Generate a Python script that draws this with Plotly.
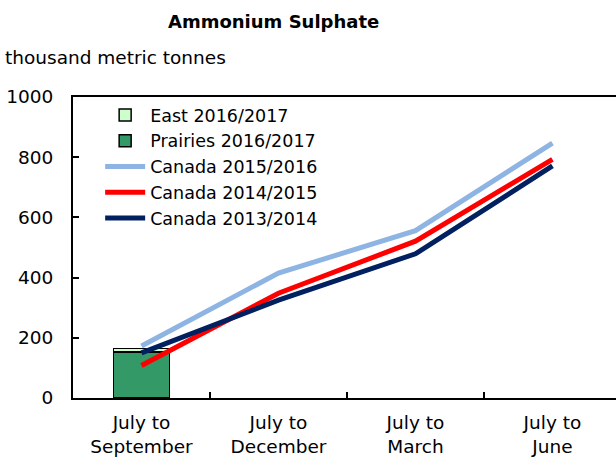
import plotly.graph_objects as go

categories = ["July to<br>September", "July to<br>December", "July to<br>March", "July to<br>June"]
prairies_1617 = [153]
east_1617 = [12]
canada_1516 = [173, 415, 556, 847]
canada_1415 = [108, 348, 521, 793]
canada_1314 = [150, 325, 479, 771]

font_family = "DejaVu Sans, Verdana, sans-serif"
fs = 18.5

fig = go.Figure()
fig.add_trace(go.Bar(x=categories[:1], y=prairies_1617, name="Prairies 2016/2017",
                     marker=dict(color="#339966", line=dict(color="black", width=1.5)),
                     width=0.41, legendrank=2))
fig.add_trace(go.Bar(x=categories[:1], y=east_1617, name="East 2016/2017",
                     marker=dict(color="#CCFFCC", line=dict(color="black", width=1.5)),
                     width=0.41, legendrank=1))
fig.add_trace(go.Scatter(x=categories, y=canada_1516, name="Canada 2015/2016", mode="lines",
                         line=dict(color="#8DB4E2", width=5), legendrank=3))
fig.add_trace(go.Scatter(x=categories, y=canada_1415, name="Canada 2014/2015", mode="lines",
                         line=dict(color="#FF0000", width=5), legendrank=4))
fig.add_trace(go.Scatter(x=categories, y=canada_1314, name="Canada 2013/2014", mode="lines",
                         line=dict(color="#002060", width=5), legendrank=5))

fig.update_layout(
    width=616, height=457,
    margin=dict(l=73, r=0, t=97, b=59, autoexpand=False),
    paper_bgcolor="white", plot_bgcolor="white",
    barmode="stack",
    font=dict(family=font_family, size=fs, color="black"),
    showlegend=True,
    legend=dict(x=0.05, y=1.0, xanchor="left", yanchor="top", bgcolor="rgba(0,0,0,0)",
                traceorder="normal", font=dict(size=17.5), tracegroupgap=0, itemwidth=40),
    xaxis=dict(type="category", range=[-0.5, 3.464], showline=True, linecolor="black", linewidth=2,
               mirror=True, ticks="inside", tickson="boundaries", ticklen=6, tickcolor="black",
               tickwidth=1.5, showgrid=False, tickfont=dict(size=fs), automargin=False,
               ticklabelstandoff=7),
    yaxis=dict(range=[0, 1000], dtick=200, showline=True, linecolor="black", linewidth=2,
               ticks="inside", ticklen=6, tickcolor="black", tickwidth=1.5, showgrid=False,
               zeroline=False, tickfont=dict(size=fs), ticklabelstandoff=14, automargin=False),
    annotations=[
        dict(text="<b>Ammonium Sulphate</b>", xref="paper", yref="paper", x=0.37, y=1 + (97 - 21) / 301,
             xanchor="center", yanchor="middle", showarrow=False, font=dict(size=18)),
        dict(text="thousand metric tonnes", xref="paper", yref="paper", x=-70 / 543, y=1 + (97 - 57) / 301,
             xanchor="left", yanchor="middle", showarrow=False, font=dict(size=fs)),
    ],
)

fig.write_html("out.html", config={"displayModeBar": False},
               post_script="document.body.style.margin='0';")
